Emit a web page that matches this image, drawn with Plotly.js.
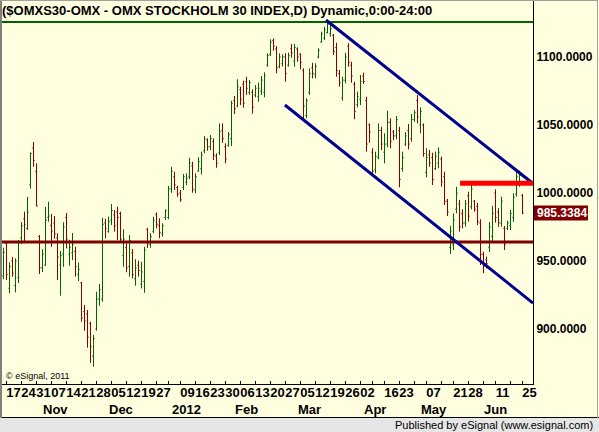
<!DOCTYPE html>
<html><head><meta charset="utf-8">
<script src="https://cdn.plot.ly/plotly-3.0.1.min.js"></script>
<style>html,body{margin:0;padding:0;background:#FFFFE0;overflow:hidden}#chart{width:599px;height:432px}</style>
</head><body><div id="chart"></div>
<script>
// Daily OHLC bars, 14 Oct 2011 .. 25 Jun 2012 (trading-day index 0..173)
const opens = [
939,963,930,950,932,938,967,981,974,1006,
1033,1016,968,945,947,982,976,978,967,947,
955,982,955,956,957,940,934,913,911,904,
880,900,922,922,978,972,980,984,986,985,
954,960,946,956,937,947,933,935,973,962,
972,984,976,970,982,982,1003,1012,1004,1000,
1004,1008,1012,1020,1002,1016,1018,1031,1039,1034,
1038,1027,1030,1046,1034,1035,1040,1068,1064,1076,
1080,1082,1074,1074,1072,1071,1075,1074,1094,1102,
1112,1106,1093,1095,1100,1094,1106,1097,1106,1102,
1090,1057,1074,1092,1087,1100,1111,1114,1118,1117,
1116,1107,1088,1070,1083,1108,1094,1080,1065,1069,
1086,1068,1050,1030,1017,1026,1046,1030,1036,1052,
1045,1042,1046,1018,1036,1046,1040,1054,1068,1050,
1050,1015,1028,1026,1018,1022,1025,1012,994,960,
962,988,992,985,978,998,990,994,990,978,
955,951,960,968,1000,986,978,974,974,976,
982,999,1008,998];
const highs = [
959.8,963.8,949.0,952.9,952.0,965.5,978.5,986.3,997.1,1029.9,
1037.5,1021.8,969.1,958.6,989.7,993.6,984.6,983.1,970.4,957.4,
978.5,985.3,965.5,970.6,960.5,949.0,934.6,917.7,914.0,905.4,
895.6,927.4,933.1,981.8,981.1,982.6,991.9,987.5,990.0,986.3,
973.3,963.0,969.1,958.8,951.3,950.2,949.5,960.5,974.5,970.4,
982.6,985.8,981.4,977.7,988.0,1005.2,1019.3,1015.7,1005.4,1002.2,
1014.0,1014.5,1026.0,1023.0,1014.5,1026.3,1030.4,1041.9,1040.2,1042.6,
1040.2,1029.2,1051.2,1051.2,1036.5,1044.9,1067.9,1071.3,1083.6,1078.2,
1082.6,1085.5,1083.1,1076.2,1079.4,1081.1,1086.0,1088.7,1102.7,1113.0,
1113.7,1108.1,1102.7,1102.0,1102.7,1103.2,1109.6,1109.6,1107.1,1102.7,
1091.7,1069.6,1091.7,1095.8,1095.4,1106.4,1118.6,1122.3,1127.2,1123.5,
1116.9,1110.5,1090.4,1085.5,1103.2,1110.1,1096.5,1081.8,1074.5,1086.8,
1088.5,1070.8,1051.2,1032.9,1030.4,1051.2,1048.7,1043.9,1060.5,1054.9,
1046.3,1056.6,1048.7,1030.4,1044.9,1050.7,1058.1,1061.0,1072.0,1063.0,
1051.2,1032.9,1031.6,1029.6,1030.4,1033.6,1026.7,1015.7,995.6,975.8,
985.0,1004.6,994.9,988.0,994.9,1001.0,1007.1,994.9,992.7,980.7,
956.8,953.2,978.7,990.5,1002.7,988.8,997.3,975.7,979.6,987.5,
999.8,1016.9,1016.4,999.3];
const lows = [
936.6,936.0,926.2,938.5,927.0,933.8,962.5,964.0,972.8,1003.2,
1019.3,990.2,940.5,941.9,946.6,978.9,960.5,966.4,936.0,924.5,
945.8,959.3,946.6,950.7,938.5,935.3,905.4,898.8,886.3,875.2,
872.3,898.8,917.1,920.1,966.7,970.8,976.5,971.6,965.5,964.2,
945.8,941.7,938.5,937.3,931.9,938.5,929.9,926.7,959.6,959.8,
970.4,974.0,966.7,967.9,980.2,980.7,1000.2,1002.2,997.3,993.6,
1002.2,1005.9,1010.1,1000.2,999.8,1015.7,1013.7,1029.2,1031.1,1031.6,
1024.3,1018.6,1027.9,1037.0,1021.8,1034.1,1034.6,1058.1,1063.0,1064.7,
1062.7,1072.1,1072.1,1058.3,1070.4,1067.1,1072.1,1070.4,1092.9,1100.7,
1104.6,1088.0,1091.7,1092.9,1081.8,1092.9,1099.5,1092.9,1096.5,1091.0,
1054.9,1054.9,1072.1,1084.3,1084.3,1099.0,1110.5,1112.5,1117.4,1114.9,
1101.5,1085.5,1078.2,1067.9,1080.7,1092.9,1081.1,1054.2,1063.0,1064.7,
1080.2,1030.4,1037.0,1013.2,1014.5,1024.8,1031.6,1021.8,1033.6,1032.9,
1039.0,1039.5,1004.2,1015.7,1034.6,1032.1,1037.7,1052.4,1051.2,1043.9,
1026.7,1011.6,1019.3,1005.9,1016.9,1018.2,1004.6,991.2,983.1,955.2,
958.0,985.1,971.6,974.0,975.3,979.0,988.0,986.3,976.5,947.1,
941.0,944.6,956.6,964.2,978.2,975.2,975.2,958.1,972.8,972.8,
978.9,997.3,1004.6,984.6];
const closes = [
956.4,940,946,941,950,964,976,977,986,1029,
1024,990.5,945,955,980,983,972,970,953,954,
975,966,960,962,946,944,908,906,894,887,
893,922,929,977,974,979,987,976,982,966,
966,945,965,940,945,943,942,958,963,968,
980,977,971,976,987,1003,1016,1006,999,995,
1012,1011,1022,1003,1012,1023,1028,1040,1034,1040,
1028,1022,1045,1040,1025,1043,1066,1062,1078,1069,
1066,1077,1081,1063,1077,1077,1083,1086,1101,1111,
1108,1092,1100,1100,1088,1101,1103,1107,1100,1096,
1064,1068,1088,1088,1093,1105,1117,1120,1124,1121,
1104,1090,1081,1083,1100,1096,1086,1060,1071,1082,
1082,1036,1045,1016,1027,1046,1036,1036,1052,1038,
1042,1054,1010,1026,1042,1036,1054,1059,1056,1060,
1029,1026,1022,1010,1027,1030,1008,994,986,972,
980,1000,975,978,992,983,1003,988,979,955,
946,948,975,985,982,978,994,962,978,985,
997,1012,1013,985.3384];
// bar colour as drawn by eSignal: G = green, R = red
const barColour = ("GRGRGGGRGG"+"RRRGGGRRRG"+"GRGGRGRRRR"+"GGGGRGGRRR"+"GRGRGRGGRG"+
  "GRRGGGGRRR"+"GGGRGGGGRG"+"RRGRRGGRGR"+"RRGRGGGGGG"+"RRGGRGRGRR"+
  "RGGRGGGGGG"+"RRRGGRRRGG"+"RRRRGGRGGR"+"RGRGGRGGRG"+"RGRRGGRRRG"+
  "GGRRGRGRRR"+"RRGGRRGRGG"+"GGGR").split("");

// weekly day ticks (trading-day index) and their labels
const dayTickIdx  = [1,6,11,16,21,26,31,36,41,46,51,55,59,64,69,74,79,84,89,94,99,104,109,114,119,123,127,132,137,141,146,150,155,160,164,169,173];
const dayTickText = ["17","24","31","07","14","21","28","05","12","19","27","","09","16","23","30","06","13","20","27","05","12","19","26","02","","16","23","","07","","21","28","","11","","25"];
// month labels at first trading day of each month
const monthIdx  = [12,34,55,76,97,119,138,159];
const monthText = ["Nov","Dec","2012","Feb","Mar","Apr","May","Jun"];

// drawn study lines (index, price)
const highLevel = 1125.7;
const supportLevel = 964.0;
const resistLevel = 1007.1, resistFrom = 152.2;
const upperChannelX = [107.5, 176.5], upperChannelY = [1127.2, 1007.0];
const lowerChannelX = [93.8, 176.5],  lowerChannelY = [1064.7, 919.1];
const lastPrice = 985.3384;

const xMin = -0.5, xMax = 176.5;
const GREEN = "#006400", RED = "#8B0000";

function build(code, col) {
  const t = {type:"ohlc", x:[], open:[], high:[], low:[], close:[], tickwidth:0.4,
    increasing:{line:{color:col, width:1}}, decreasing:{line:{color:col, width:1}},
    hoverinfo:"skip", showlegend:false};
  for (let i = 0; i < opens.length; i++) {
    if (barColour[i] !== code) continue;
    t.x.push(i); t.open.push(opens[i]); t.high.push(highs[i]); t.low.push(lows[i]); t.close.push(closes[i]);
  }
  return t;
}
const traces = [build("G", GREEN), build("R", RED)];

const W = 599, H = 432, L = 2, R = 66, T = 0, B = 48;
const pw = W - L - R, ph = H - T - B;
const px = p => (p - L) / pw;      // pixel -> paper x
const py = p => 1 - (p - T) / ph;  // pixel -> paper y
const bold = (s, c) => ({family:"Arial, Liberation Sans, sans-serif", size:s, color:c || "#000", weight:"bold"});

const shapes = [
  {type:"line", xref:"x", yref:"y", x0:xMin, x1:xMax, y0:highLevel, y1:highLevel, line:{color:"#006400", width:2}},
  {type:"line", xref:"x", yref:"y", x0:xMin, x1:xMax, y0:supportLevel, y1:supportLevel, line:{color:"#800000", width:3}},
  {type:"line", xref:"x", yref:"y", x0:upperChannelX[0], x1:upperChannelX[1], y0:upperChannelY[0], y1:upperChannelY[1], line:{color:"#000090", width:3}},
  {type:"line", xref:"x", yref:"y", x0:lowerChannelX[0], x1:lowerChannelX[1], y0:lowerChannelY[0], y1:lowerChannelY[1], line:{color:"#000090", width:3}},
  {type:"line", xref:"x", yref:"y", x0:resistFrom, x1:xMax, y0:resistLevel, y1:resistLevel, line:{color:"#FF0000", width:5}},
  // footer band
  {type:"rect", xref:"paper", yref:"paper", x0:px(-2), x1:px(W+2), y0:py(H+2), y1:py(418), fillcolor:"#E6E6E6", line:{width:0}, layer:"below"},
  {type:"line", xref:"paper", yref:"paper", x0:px(0), x1:px(W), y0:py(417.5), y1:py(417.5), line:{color:"#000", width:1}},
  // outer frame
  {type:"line", xref:"paper", yref:"paper", x0:px(1), x1:px(1), y0:py(0), y1:py(418), line:{color:"#808080", width:2}},
  {type:"line", xref:"paper", yref:"paper", x0:px(0), x1:px(598), y0:py(0.5), y1:py(0.5), line:{color:"#A0A0A0", width:1}},
  {type:"line", xref:"paper", yref:"paper", x0:px(597.5), x1:px(597.5), y0:py(0), y1:py(418), line:{color:"#A0A0A0", width:1}},
  // last price box
  {type:"rect", xref:"paper", yref:"y", ysizemode:"pixel", yanchor:lastPrice, y0:-7.5, y1:7.5, x0:px(534), x1:px(588), fillcolor:"#800000", line:{width:0}}
];

const annotations = monthIdx.map((m, k) => ({
  xref:"x", yref:"paper", x:m, y:py(409), xanchor:"left", yanchor:"middle", xshift:1,
  text:monthText[k], showarrow:false, font:bold(13)}));
annotations.push({xref:"paper", yref:"y", x:px(535), y:lastPrice, xanchor:"left", yanchor:"middle",
  text:lastPrice.toFixed(4), showarrow:false, font:bold(12, "#FFFFFF")});
annotations.push({xref:"paper", yref:"paper", x:px(4), y:py(376), xanchor:"left", yanchor:"middle",
  text:"© eSignal, 2011", showarrow:false, font:{family:"Arial, Liberation Sans, sans-serif", size:9, color:"#000"}});
annotations.push({xref:"paper", yref:"paper", x:px(595), y:py(425), xanchor:"right", yanchor:"middle",
  text:"Published by eSignal (www.esignal.com)", showarrow:false, font:{family:"Arial, Liberation Sans, sans-serif", size:11, color:"#000"}});

const layout = {
  width:W, height:H, margin:{l:L, r:R, t:T, b:B, pad:0},
  paper_bgcolor:"#FFFFE0", plot_bgcolor:"#FFFFE0",
  title:{text:"($OMXS30-OMX - OMX STOCKHOLM 30 INDEX,D) Dynamic,0:00-24:00", xref:"container", yref:"container",
    x:2/W, xanchor:"left", y:1 - 10.5/H, yanchor:"middle", font:bold(13)},
  xaxis:{range:[xMin, xMax], tickmode:"array", tickvals:dayTickIdx, ticktext:dayTickText, tickangle:0,
    ticks:"inside", ticklen:3, tickcolor:"#000", showline:true, linecolor:"#000", linewidth:1,
    showgrid:false, zeroline:false, tickfont:bold(13), ticklabelshift:7, ticklabelstandoff:-4,
    rangeslider:{visible:false}, fixedrange:true},
  yaxis:{side:"right", range:[859.6, 1141.9], tickmode:"array", tickvals:[900,950,1000,1050,1100], tickformat:".4f",
    ticks:"", showline:true, linecolor:"#000", linewidth:1, showgrid:false, zeroline:false,
    tickfont:bold(12), fixedrange:true},
  shapes:shapes, annotations:annotations, showlegend:false, hovermode:false
};
Plotly.newPlot("chart", traces, layout, {staticPlot:true, displayModeBar:false});
</script></body></html>
